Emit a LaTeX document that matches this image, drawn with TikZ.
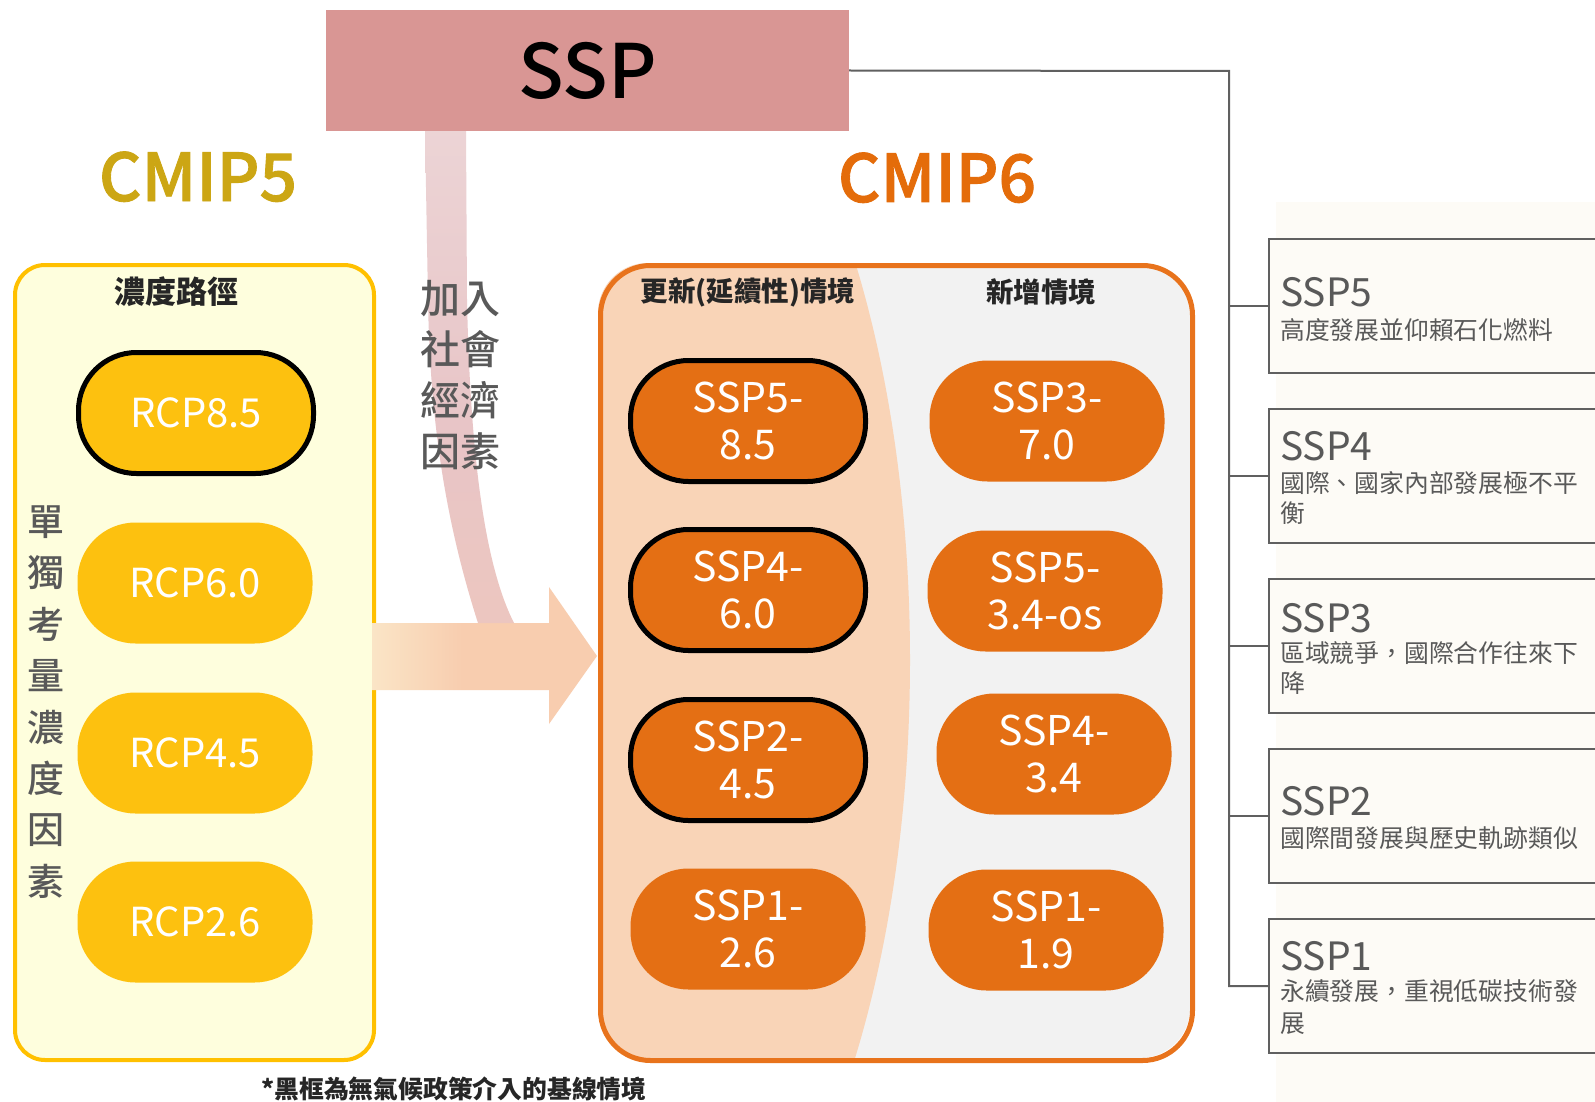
\documentclass[tikz,border=0pt]{standalone}
\usepackage{fontspec}
\setmainfont{Noto Sans CJK TC}
\newfontfamily\medf{Noto Sans CJK TC Medium}
\newfontfamily\semif[FakeBold=1.3]{Noto Sans CJK TC Medium}
\usetikzlibrary{calc}
\definecolor{sspred}{HTML}{D99694}
\definecolor{cmipgold}{HTML}{CCA614}
\definecolor{cmipor}{HTML}{E46C0A}
\definecolor{ygold}{HTML}{FFC000}
\definecolor{ylight}{HTML}{FEFEDD}
\definecolor{rcpgold}{HTML}{FDC10F}
\definecolor{oborder}{HTML}{E8731C}
\definecolor{ogray}{HTML}{F2F2F2}
\definecolor{peach}{HTML}{F9D4B7}
\definecolor{sspor}{HTML}{E46F14}
\definecolor{linegray}{HTML}{606060}
\definecolor{txtgray}{HTML}{595959}
\definecolor{dark}{HTML}{262626}
\definecolor{cream}{HTML}{FDFBF6}
\definecolor{ayel}{HTML}{FCF9DA}
\definecolor{apeach}{HTML}{F8CDAF}
\definecolor{bandtop}{HTML}{EFE0E1}
\definecolor{bandmid}{HTML}{E8C5C7}
\definecolor{bandbot}{HTML}{F2C8B6}
\pgfdeclarehorizontalshading{arrsh}{100bp}{color(0bp)=(ayel); color(8bp)=(ayel); color(45bp)=(apeach); color(100bp)=(apeach)}
\pgfdeclareverticalshading{bandsh}{100bp}{color(0bp)=(bandbot); color(45bp)=(bandmid); color(100bp)=(bandtop)}
\begin{document}
\begin{tikzpicture}[x=1pt,y=-1pt,
  pill/.style={rectangle, rounded corners=58pt, minimum width=235pt, minimum height=121pt, inner sep=0pt, align=center, text=white},
  rcp/.style={pill, fill=rcpgold, font=\fontsize{40}{46}\selectfont},
  sspp/.style={pill, fill=sspor, font=\fontsize{41}{47}\selectfont},
  basel/.style={draw=black, line width=5pt},
  hdr/.style={font=\bfseries\fontsize{27}{32}\selectfont, text=dark, inner sep=0pt},
  rbox/.style={draw=linegray, line width=2pt, fill=cream, minimum width=340pt, minimum height=134pt, inner sep=0pt, anchor=west},
  rttl/.style={font=\fontsize{39}{44}\selectfont, text=txtgray, inner sep=0pt, anchor=base west},
  rsub/.style={font=\fontsize{24.8}{30}\selectfont, text=txtgray, inner sep=0pt, anchor=base west},
  conn/.style={draw=linegray, line width=2pt}
]
\useasboundingbox (0,0) rectangle (1595,1102);
\begin{scope}
\clip (0,0) rectangle (1595,1102);
\fill[white] (0,0) rectangle (1595,1102);
% right cream backdrop
\fill[cream] (1276,202) rectangle (1595,1102);

% left panel
\node[draw=ygold, line width=4pt, fill=ylight, rounded corners=30pt, minimum width=359pt, minimum height=795pt, anchor=north west, inner sep=0pt] (lpanel) at (13,263) {};

% right (CMIP6) panel background
\fill[ogray, rounded corners=50pt] (598,263) rectangle (1190,1058);
\begin{scope}
\clip[rounded corners=50pt] (598,263) rectangle (1190,1058);
\fill[peach] (600,660) ellipse [x radius=310pt, y radius=700pt];
\end{scope}
\node[draw=oborder, line width=5pt, rounded corners=50pt, minimum width=592pt, minimum height=795pt, anchor=north west, inner sep=0pt] (rpanel) at (598,263) {};

% big horizontal arrow
\path[shading=arrsh] (372,623) -- (549,623) -- (549,587) -- (597,656) -- (549,724) -- (549,690) -- (372,690) -- cycle;
% curved band
\path[shading=bandsh] (425,131) -- (428,300) .. controls (430,420) and (445,520) .. (478,623)
  -- (514,623) .. controls (482,560) and (470,440) .. (467,300) -- (466,131) -- cycle;

% SSP box
\node[fill=sspred, minimum width=523pt, minimum height=121pt, inner sep=0pt, font=\medf\fontsize{75}{80}\selectfont, text=black] (ssp) at (587.5,70.5) {SSP};

% titles
\node[font=\semif\fontsize{66}{70}\selectfont, text=cmipgold, anchor=base, inner sep=0pt] (cmip5) at (198,201) {CMIP5};
\node[font=\semif\fontsize{66}{70}\selectfont, text=cmipor, anchor=base, inner sep=0pt] (cmip6) at (937,202) {CMIP6};

% headers
\node[hdr, font=\bfseries\fontsize{31}{34}\selectfont] (h1) at (176,292) {濃度路徑};
\node[hdr, font=\bfseries\fontsize{27.5}{32}\selectfont] (h2) at (748,292) {更新(延續性)情境};
\node[hdr, font=\bfseries\fontsize{27.5}{32}\selectfont] (h3) at (1041,292) {新增情境};

% RCP pills
\node[rcp, basel] (r85) at (196,413) {RCP8.5};
\node[rcp] (r60) at (195,583) {RCP6.0};
\node[rcp] (r45) at (195,753) {RCP4.5};
\node[rcp] (r26) at (195,922) {RCP2.6};

% vertical text
\node[font=\medf\fontsize{37}{51.4}\selectfont, text=txtgray, align=center, inner sep=0pt] (vt) at (46,702) {單\\獨\\考\\量\\濃\\度\\因\\素};
\node[font=\medf\fontsize{40}{51}\selectfont, text=txtgray, align=center, inner sep=0pt] (addt) at (460,375) {加入\\社會\\經濟\\因素};

% SSP pills
\node[sspp, basel] (p585) at (748,421) {SSP5-\\8.5};
\node[sspp, basel] (p460) at (748,590) {SSP4-\\6.0};
\node[sspp, basel] (p245) at (748,760) {SSP2-\\4.5};
\node[sspp] (p126) at (748,929) {SSP1-\\2.6};
\node[sspp] (p370) at (1047,421) {SSP3-\\7.0};
\node[sspp] (p534) at (1045,591) {SSP5-\\3.4-os};
\node[sspp] (p434) at (1054,754) {SSP4-\\3.4};
\node[sspp] (p119) at (1046,930) {SSP1-\\1.9};

% right boxes
\node[rbox] (b5) at (1268,306) {};
\node[rbox] (b4) at (1268,476) {};
\node[rbox] (b3) at (1268,646) {};
\node[rbox] (b2) at (1268,816) {};
\node[rbox] (b1) at (1268,986) {};

\coordinate (trunk) at (1229,71);
\draw[conn] (ssp.east) -- (trunk) |- (b1.west);
\draw[conn] (trunk) |- (b5.west);
\draw[conn] (trunk) |- (b4.west);
\draw[conn] (trunk) |- (b3.west);
\draw[conn] (trunk) |- (b2.west);

\node[rttl] (t5) at (1280,306) {SSP5};
\node[rsub] (s5) at (1280,339) {高度發展並仰賴石化燃料};
\node[rttl] (t4) at (1280,460) {SSP4};
\node[rsub] (s4a) at (1280,492) {國際、國家內部發展極不平};
\node[rsub] (s4b) at (1280,522) {衡};
\node[rttl] (t3) at (1280,632) {SSP3};
\node[rsub] (s3a) at (1280,662) {區域競爭，國際合作往來下};
\node[rsub] (s3b) at (1280,692) {降};
\node[rttl] (t2) at (1280,815) {SSP2};
\node[rsub] (s2) at (1280,847) {國際間發展與歷史軌跡類似};
\node[rttl] (t1) at (1280,970) {SSP1};
\node[rsub] (s1a) at (1280,1000) {永續發展，重視低碳技術發};
\node[rsub] (s1b) at (1280,1032) {展};

% footnote
\node[font=\bfseries\fontsize{24.8}{28}\selectfont, text=dark, inner sep=0pt] (foot) at (454,1089) {*黑框為無氣候政策介入的基線情境};
\end{scope}
\end{tikzpicture}
\end{document}
